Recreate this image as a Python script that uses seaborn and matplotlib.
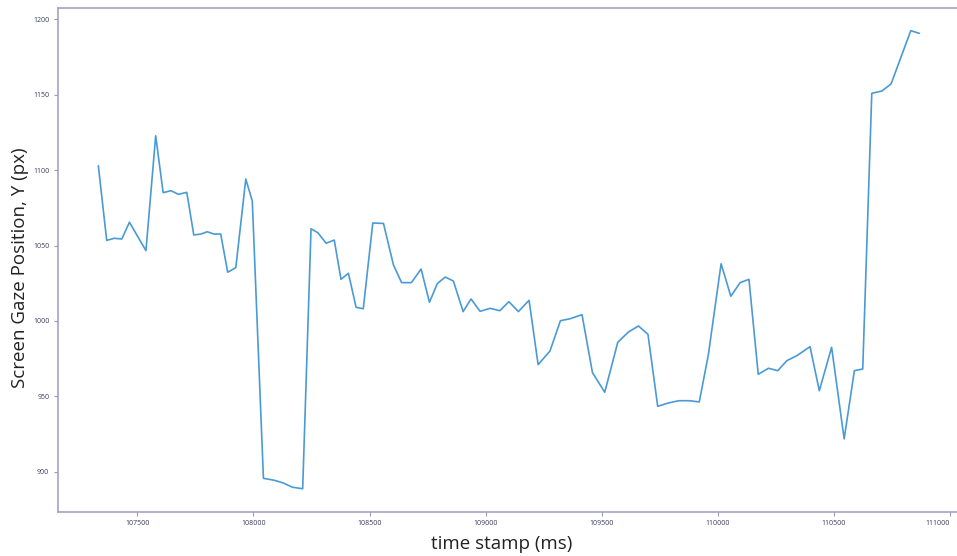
import matplotlib
matplotlib.use("Agg")
import matplotlib.pyplot as plt
import seaborn as sns
import pandas as pd

# Gaze samples: time stamp (ms) and vertical screen position (px)
time_ms = [
    107332, 107368, 107401, 107433, 107466, 107537, 107579, 107611, 107645, 107677,
    107713, 107743, 107774, 107801, 107830, 107859, 107889, 107924, 107967, 107995,
    108043, 108090, 108129, 108168, 108212, 108248, 108277, 108313, 108348, 108377,
    108409, 108442, 108473, 108514, 108560, 108603, 108638, 108680, 108722, 108758,
    108792, 108826, 108861, 108903, 108937, 108976, 109019, 109061, 109100, 109141,
    109187, 109226, 109277, 109322, 109364, 109415, 109460, 109513, 109569, 109615,
    109658, 109699, 109741, 109787, 109832, 109877, 109920, 109959, 110014, 110056,
    110096, 110134, 110174, 110218, 110258, 110297, 110340, 110397, 110437, 110490,
    110544, 110588, 110624, 110663, 110706, 110746, 110831, 110868,
]
gaze_y = [
    1102.8, 1053.4, 1054.8, 1054.3, 1065.4, 1046.6, 1122.7, 1085.0, 1086.3, 1083.9,
    1085.2, 1057.0, 1057.6, 1059.1, 1057.6, 1057.6, 1032.3, 1035.3, 1094.0, 1079.5,
    895.8, 894.5, 892.7, 889.9, 888.9, 1061.1, 1058.5, 1051.5, 1053.6, 1027.6,
    1031.6, 1009.1, 1008.1, 1064.9, 1064.6, 1037.1, 1025.4, 1025.4, 1034.4, 1012.4,
    1024.8, 1029.1, 1026.5, 1006.2, 1014.6, 1006.4, 1008.4, 1006.8, 1012.8, 1006.2,
    1013.7, 971.1, 980.1, 1000.2, 1001.5, 1004.2, 965.8, 952.8, 985.9, 992.7,
    996.7, 991.2, 943.5, 945.7, 947.2, 947.2, 946.4, 977.5, 1037.9, 1016.4,
    1025.4, 1027.6, 964.7, 968.7, 967.1, 973.7, 977.0, 983.0, 953.8, 982.6,
    921.9, 967.1, 968.2, 1150.8, 1152.3, 1157.0, 1192.3, 1190.5,
]
x_ticks = [107500, 108000, 108500, 109000, 109500, 110000, 110500, 111000]
y_ticks = [900, 950, 1000, 1050, 1100, 1150, 1200]

sns.set_style("white")
plt.rcParams["font.family"] = ["Open Sans", "DejaVu Sans"]

df = pd.DataFrame({"time stamp (ms)": time_ms, "y": gaze_y})

fig = plt.figure(figsize=(9.57, 5.56), dpi=100)
ax = fig.add_axes([0.0603, 0.0797, 0.9397, 0.9059])

sns.lineplot(data=df, x="time stamp (ms)", y="y", ax=ax,
             color="#4a9ad6", linewidth=1.2)

ax.set_xlim(107157, 111030)
ax.set_ylim(873.7, 1207.3)
ax.set_xticks(x_ticks)
ax.set_yticks(y_ticks)
ax.set_xticklabels([str(v) for v in x_ticks])
ax.set_yticklabels([str(v) for v in y_ticks])
# the last time label sits at the right edge; anchor it so it stays readable
ax.get_xticklabels()[-1].set_horizontalalignment("right")

spine_color = "#a3a3c4"
for side in ("left", "bottom", "top"):
    ax.spines[side].set_visible(True)
    ax.spines[side].set_color(spine_color)
    ax.spines[side].set_linewidth(1.2)
ax.spines["right"].set_visible(False)

ax.tick_params(axis="both", which="major", length=3, width=0.8,
               color="#9a9aae", labelsize=5, labelcolor="#3a3a5a",
               direction="out", left=True, bottom=True, pad=3)

ax.set_xlabel("")
ax.set_ylabel("")
fig.text(502 / 957, 1 - 544 / 556, "time stamp (ms)", fontsize=13.5,
         color="#222222", ha="center", va="center")
fig.text(20 / 957, 1 - 268 / 556, "Screen Gaze Position, Y (px)", fontsize=13.5,
         color="#222222", ha="center", va="center", rotation=90)

fig.savefig("out.png", dpi=100)
